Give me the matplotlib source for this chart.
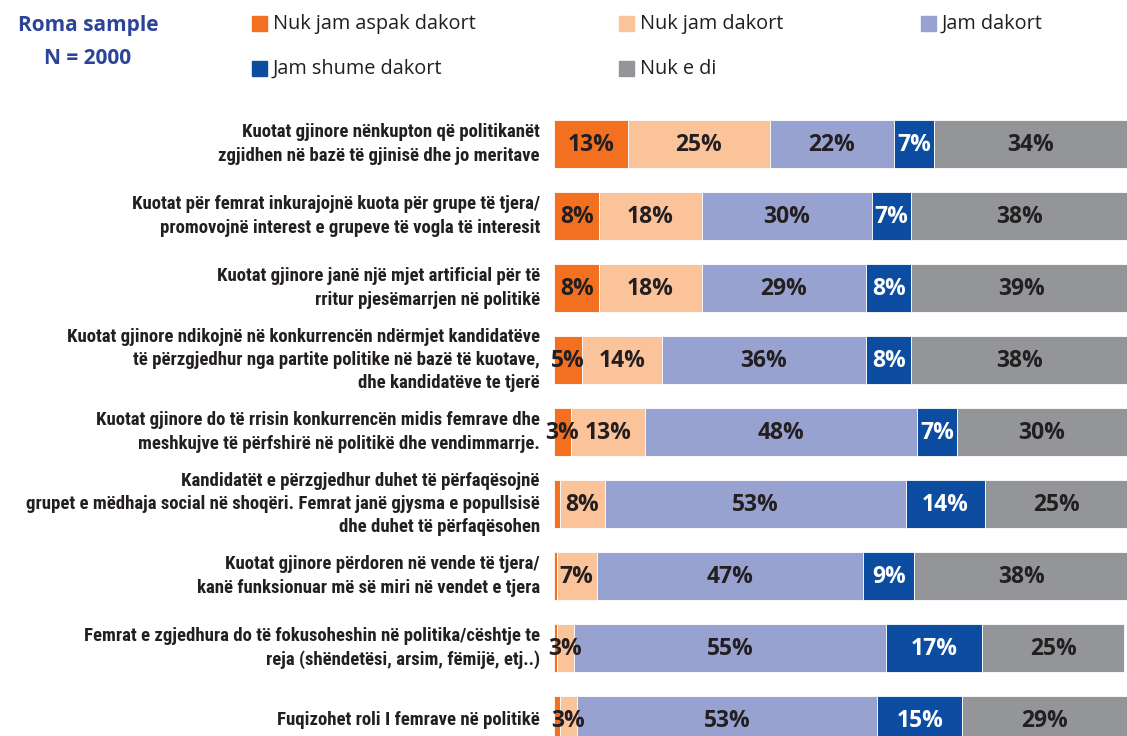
import matplotlib
matplotlib.use("Agg")
import matplotlib.pyplot as plt
from matplotlib.patches import Rectangle
from matplotlib import font_manager as fm
import numpy as np

categories = [
    "Kuotat gjinore nënkupton që politikanët\nzgjidhen në bazë të gjinisë dhe jo meritave",
    "Kuotat për femrat inkurajojnë kuota për grupe të tjera/\npromovojnë interest e grupeve të vogla të interesit",
    "Kuotat gjinore janë një mjet artificial për të\nrritur pjesëmarrjen në politikë",
    "Kuotat gjinore ndikojnë në konkurrencën ndërmjet kandidatëve\ntë përzgjedhur nga partite politike në bazë të kuotave,\ndhe kandidatëve te tjerë",
    "Kuotat gjinore do të rrisin konkurrencën midis femrave dhe\nmeshkujve të përfshirë në politikë dhe vendimmarrje.",
    "Kandidatët e përzgjedhur duhet të përfaqësojnë\ngrupet e mëdhaja social në shoqëri. Femrat janë gjysma e popullsisë\ndhe duhet të përfaqësohen",
    "Kuotat gjinore përdoren në vende të tjera/\nkanë funksionuar më së miri në vendet e tjera",
    "Femrat e zgjedhura do të fokusoheshin në politika/cështje te\nreja (shëndetësi, arsim, fëmijë, etj..)",
    "Fuqizohet roli I femrave në politikë",
]

series_names = ["Nuk jam aspak dakort", "Nuk jam dakort", "Jam dakort",
                "Jam shume dakort", "Nuk e di"]
strongly_disagree = [13, 8, 8, 5, 3, 1, 0.5, 0.5, 1]
disagree = [25, 18, 18, 14, 13, 8, 7, 3, 3]
agree = [22, 30, 29, 36, 48, 53, 47, 55, 53]
strongly_agree = [7, 7, 8, 8, 7, 14, 9, 17, 15]
dont_know = [34, 38, 39, 38, 30, 25, 38, 25, 29]

colors = ["#F37021", "#FBC39A", "#98A2D0", "#0D4DA1", "#939598"]
label_colors = ["#231F20", "#231F20", "#231F20", "white", "#231F20"]


def pick_narrow_font():
    """Return FontProperties for a bold condensed face, if one is installed."""
    candidates = [
        dict(family="Liberation Sans Narrow"),
        dict(family="Roboto Condensed"),
        dict(family="Open Sans Condensed"),
        dict(family="DejaVu Sans", stretch="condensed"),
        dict(family="Noto Sans", stretch="condensed"),
        dict(family="Open Sans", stretch="condensed"),
    ]
    for c in candidates:
        fp = fm.FontProperties(weight="bold", **c)
        try:
            path = fm.findfont(fp, fallback_to_default=False)
        except Exception:
            continue
        name = path.lower()
        if "narrow" in name or "condensed" in name or "cond" in name:
            return fm.FontProperties(fname=path)
    return fm.FontProperties(family="Roboto", weight="bold")


W, H = 1127, 736
fig = plt.figure(figsize=(W / 100, H / 100), dpi=100)
ax = fig.add_axes([554 / W, 0, 1 - 554 / W, 1])
ax.set_xlim(0, 101)
ax.set_ylim((H - 144) / 72, -144 / 72)
ax.axis("off")

series = [strongly_disagree, disagree, agree, strongly_agree, dont_know]
y = np.arange(len(categories))
left = np.zeros(len(categories))
for vals, col, tcol in zip(series, colors, label_colors):
    vals = np.array(vals, dtype=float)
    ax.barh(y, vals, left=left, height=0.667, color=col,
            edgecolor="white", linewidth=0.6)
    for yi, (l, v) in enumerate(zip(left, vals)):
        if v >= 2:
            ax.text(l + v / 2, yi + 0.01, f"{v:.0f}%", ha="center", va="center",
                    fontsize=16.5, fontweight="bold", color=tcol,
                    family="Open Sans")
    left += vals

# category labels: condensed bold, sized so the longest line fits left of bars
cat_font = pick_narrow_font()
renderer = fig.canvas.get_renderer()
probe = fig.text(0, 0, "grupet e mëdhaja social në shoqëri. Femrat janë gjysma e popullsisë",
                 fontproperties=cat_font, fontsize=12)
probe_w = probe.get_window_extent(renderer).width
probe.remove()
cat_size = min(13.5, 12 * 530 / probe_w)
line_px = 22.0
cat_spacing = line_px / (cat_size * 100 / 72 * 0.86)

for yi, cat in enumerate(categories):
    t = ax.text(-2.5, yi, cat, ha="right", va="center",
                fontproperties=cat_font, color="#231F20",
                linespacing=cat_spacing)
    t.set_fontsize(cat_size)

# heading
fig.text(88 / W, 1 - 25 / H, "Roma sample", ha="center", va="center",
         fontsize=15, fontweight="bold", color="#2B4497", family="Open Sans")
fig.text(88 / W, 1 - 58 / H, "N = 2000", ha="center", va="center",
         fontsize=15, fontweight="bold", color="#2B4497", family="Open Sans")

# legend
legend_pos = [(252, 24), (619, 24), (921, 24), (252, 69), (619, 69)]
for (lx, ly), idx in zip(legend_pos, range(5)):
    fig.patches.append(Rectangle((lx / W, 1 - (ly + 7) / H), 15 / W, 15 / H,
                                 transform=fig.transFigure,
                                 color=colors[idx]))
    fig.text((lx + 21) / W, 1 - ly / H, series_names[idx], ha="left",
             va="center", fontsize=14.3, color="#231F20", family="Open Sans")

fig.savefig("out.png", dpi=100)
